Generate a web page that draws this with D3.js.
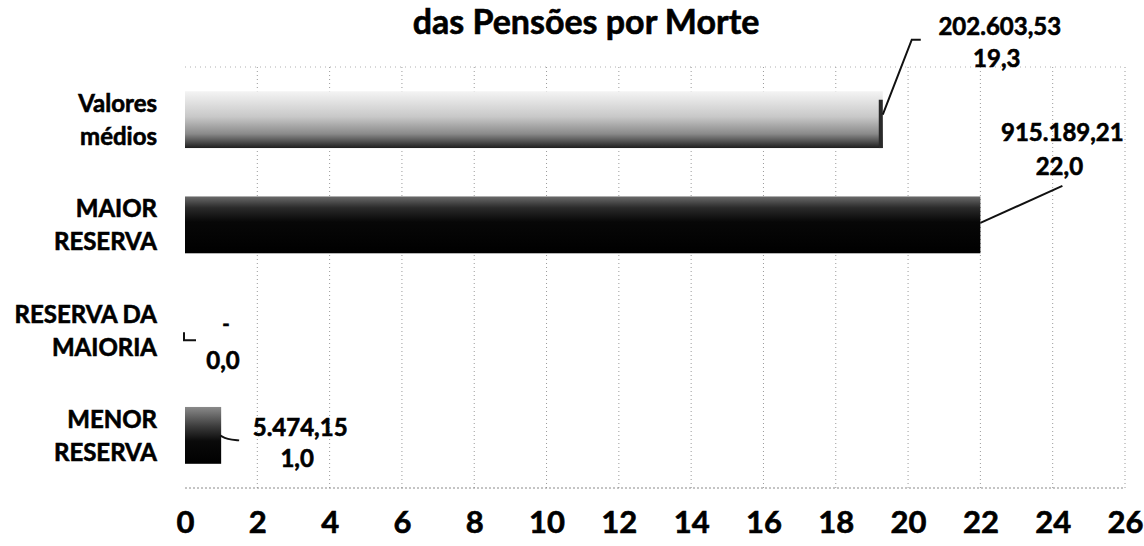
<!DOCTYPE html>
<html>
<head>
<meta charset="utf-8">
<script src="https://cdn.jsdelivr.net/npm/d3@7"></script>
<style>
  html, body { margin: 0; padding: 0; background: #fff; }
  svg { display: block; font-family: Lato, "Open Sans", sans-serif; font-weight: bold; }
  svg text { fill: #000; stroke: #000; stroke-width: 0.6px; }
</style>
</head>
<body>
<div id="chart"></div>
<script>
(function(){
  'use strict';

  // Data.
  var categories = ["Valores médios", "MAIOR RESERVA", "RESERVA DA MAIORIA", "MENOR RESERVA"];
  var categoryLines = [["Valores", "médios"], ["MAIOR", "RESERVA"], ["RESERVA DA", "MAIORIA"], ["MENOR", "RESERVA"]];
  var values = [19.3, 22.0, 0.0, 1.0];
  var valueLabels = ["19,3", "22,0", "0,0", "1,0"];
  var amountLabels = ["202.603,53", "915.189,21", "-", "5.474,15"];
  var xTicks = [0, 2, 4, 6, 8, 10, 12, 14, 16, 18, 20, 22, 24, 26];
  var title = "das Pensões por Morte";

  // Layout of the data labels, relative to the end of each bar.
  var labelPos = [
    { dx: 117, dy1: -93, dy2: -61, amountSize: 24 },
    { dx: 82,  dy1: -92, dy2: -58, amountSize: 24 },
    { dx: 41,  dy1: -6,  dy2: 30,  amountSize: 20 },
    { dx: 79,  dy1: -8,  dy2: 23,  amountSize: 24 }
  ];
  var leaders = [
    [[0, -5], [29, -80], [38, -80]],
    [[0, -2], [82, -39]],
    [[-1, 2], [-1, 10], [11, 10]],
    [[-1, 0], [6, 4], [18, 5]]
  ];
  var barFills = ["grad0", "grad1", "grad2", "grad2"];

  var width = 1144, height = 546;

  var svg = d3.select("#chart").append("svg")
      .attr("width", width)
      .attr("height", height);

  // Gradients standing in for the grainy scanned fills.
  var defs = svg.append("defs");
  var gradStops = {
    grad0: [["0%", "#f4f4f4"], ["45%", "#c8c8c8"], ["75%", "#8a8a8a"], ["100%", "#1e1e1e"]],
    grad1: [["0%", "#6a6a6a"], ["20%", "#2a2a2a"], ["45%", "#070707"], ["100%", "#000"]],
    grad2: [["0%", "#8a8a8a"], ["35%", "#3a3a3a"], ["60%", "#0a0a0a"], ["100%", "#000"]]
  };
  Object.keys(gradStops).forEach(function(id){
    var g = defs.append("linearGradient").attr("id", id)
        .attr("x1", 0).attr("y1", 0).attr("x2", 0).attr("y2", 1);
    gradStops[id].forEach(function(s){
      g.append("stop").attr("offset", s[0]).attr("stop-color", s[1]);
    });
  });

  var x = d3.scaleLinear().domain([0, 26]).range([185, 1125]);
  var y = d3.scaleBand().domain(categories).range([67, 488])
      .paddingInner(0.46).paddingOuter(0.23);

  // Title.
  svg.append("text")
      .attr("x", 586).attr("y", 34)
      .attr("text-anchor", "middle")
      .style("font-size", "34px")
      .text(title);

  // Dotted grid and frame.
  var grid = svg.append("g").attr("class", "grid");
  grid.selectAll("line.v")
      .data(xTicks.slice(1))
    .enter().append("line")
      .attr("class", "v")
      .attr("x1", function(d){ return x(d); })
      .attr("x2", function(d){ return x(d); })
      .attr("y1", y.range()[0])
      .attr("y2", y.range()[1])
      .attr("stroke", "#9a9a9a")
      .attr("stroke-width", 1)
      .attr("stroke-dasharray", "1,3");
  grid.append("line")
      .attr("x1", x(0)).attr("x2", x(26))
      .attr("y1", y.range()[0]).attr("y2", y.range()[0])
      .attr("stroke", "#b0b0b0").attr("stroke-dasharray", "1,4");
  grid.append("line")
      .attr("x1", x(0)).attr("x2", x(26))
      .attr("y1", y.range()[1]).attr("y2", y.range()[1])
      .attr("stroke", "#8a8a8a").attr("stroke-dasharray", "2,2");

  // Bars.
  svg.append("g").selectAll("rect")
      .data(values)
    .enter().append("rect")
      .attr("x", x(0))
      .attr("y", function(d, i){ return y(categories[i]); })
      .attr("width", function(d){ return x(d) - x(0); })
      .attr("height", y.bandwidth())
      .attr("fill", function(d, i){ return "url(#" + barFills[i] + ")"; });

  // Dark cap on the right end of the first bar.
  svg.append("rect")
      .attr("x", x(values[0]) - 4)
      .attr("y", y(categories[0]) + y.bandwidth() * 0.15)
      .attr("width", 4)
      .attr("height", y.bandwidth() * 0.85)
      .attr("fill", "#2a2a2a");

  // Category labels.
  var catG = svg.append("g");
  categoryLines.forEach(function(lines, i){
    var cy = y(categories[i]) + y.bandwidth() / 2;
    lines.forEach(function(t, j){
      catG.append("text")
          .attr("x", 157)
          .attr("y", cy + (j === 0 ? -16 : 17))
          .attr("dy", "0.35em")
          .attr("text-anchor", "end")
          .style("font-size", "24px")
          .text(t);
    });
  });

  // Leader lines and data labels.
  var lineGen = d3.line().curve(d3.curveLinear);
  var lblG = svg.append("g");
  values.forEach(function(v, i){
    var bx = x(v), cy = y(categories[i]) + y.bandwidth() / 2;
    var pts = leaders[i].map(function(p){ return [bx + p[0], cy + p[1]]; });
    lblG.append("path")
        .attr("d", (i === 3 ? d3.line().curve(d3.curveBasis) : lineGen)(pts))
        .attr("fill", "none")
        .attr("stroke", "#111")
        .attr("stroke-width", 2);
    var lp = labelPos[i];
    lblG.append("text")
        .attr("x", bx + lp.dx).attr("y", cy + lp.dy1)
        .attr("dy", "0.35em")
        .attr("text-anchor", "middle")
        .style("font-size", lp.amountSize + "px")
        .text(amountLabels[i]);
    lblG.append("text")
        .attr("x", bx + lp.dx - 3).attr("y", cy + lp.dy2)
        .attr("dy", "0.35em")
        .attr("text-anchor", "middle")
        .style("font-size", "24px")
        .text(valueLabels[i]);
  });

  // X axis tick labels.
  var xAxis = d3.axisBottom(x).tickValues(xTicks).tickSize(0).tickPadding(0)
      .tickFormat(d3.format("d"));
  var ax = svg.append("g")
      .attr("transform", "translate(0,511)")
      .call(xAxis);
  ax.select(".domain").remove();
  ax.selectAll("text")
      .attr("fill", "#000")
      .style("font-family", "Lato, 'Open Sans', sans-serif")
      .style("font-weight", "bold")
      .style("font-size", "31px");
})();
</script>
</body>
</html>
